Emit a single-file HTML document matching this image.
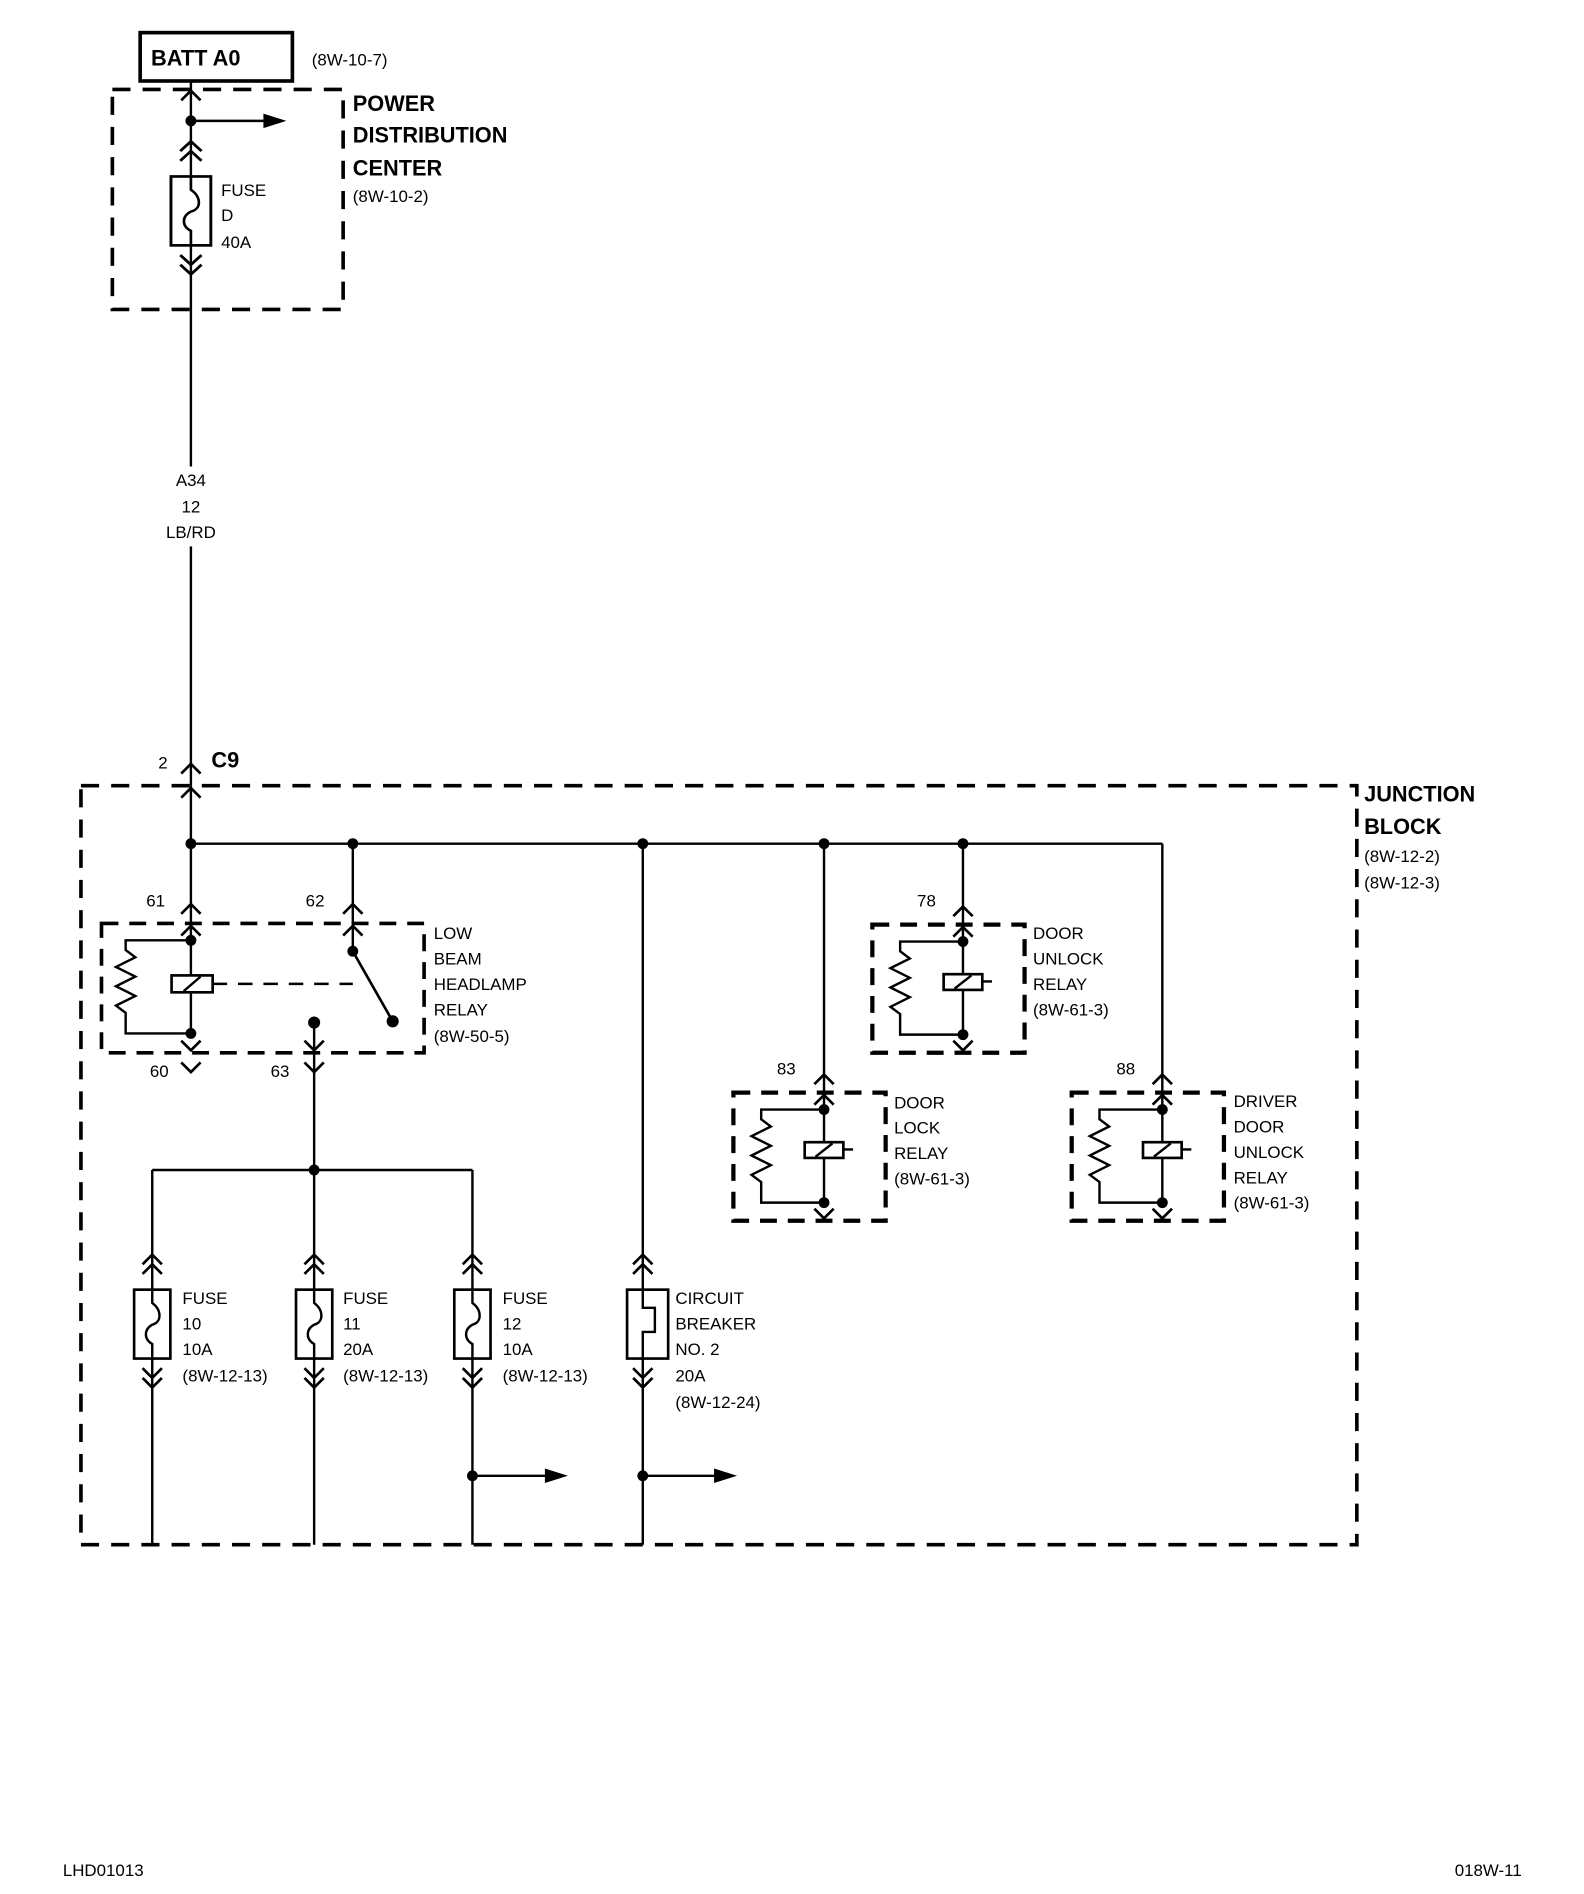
<!DOCTYPE html>
<html><head><style>
html,body{margin:0;padding:0;background:#fff}
svg{display:block}
text{font-family:"Liberation Sans",Arial,sans-serif;fill:#000}
.s{font-size:14px}
.b{font-size:18px;font-weight:bold}
</style></head><body>
<svg width="1584" height="1894" viewBox="0 0 1311 1567" preserveAspectRatio="none" xmlns="http://www.w3.org/2000/svg">
<defs>
<path id="up" d="M-8,8 L0,0 L8,8" fill="none" stroke="#000" stroke-width="2.2"/>
<path id="dn" d="M-8,-8 L0,0 L8,-8" fill="none" stroke="#000" stroke-width="2.2"/>
<g id="relay">
<rect x="-75" y="0" width="126" height="106" fill="none" stroke="#000" stroke-width="3.5" stroke-dasharray="14,9"/>
<use href="#up" x="0" y="2"/>
<line x1="0" y1="0" x2="0" y2="91" stroke="#000" stroke-width="2"/>
<path d="M0,14 H-52 V22 L-44,28 L-60,36 L-44,44 L-60,52 L-44,60 L-60,68 L-52,74 V91 H0" fill="none" stroke="#000" stroke-width="2"/>
<rect x="-16" y="41" width="32" height="13" fill="#fff" stroke="#000" stroke-width="2.2"/>
<line x1="-7" y1="53" x2="7" y2="42" stroke="#000" stroke-width="2"/>
<line x1="16" y1="47" x2="24" y2="47" stroke="#000" stroke-width="2"/>
<circle cx="0" cy="14" r="4.5"/>
<circle cx="0" cy="91" r="4.5"/>
<use href="#dn" x="0" y="104"/>
</g>
<g id="fuse">
<use href="#up" x="0" y="0"/><use href="#up" x="0" y="8"/>
<rect x="-15" y="29" width="30" height="57" fill="#fff" stroke="#000" stroke-width="2.2"/>
<path d="M0,29 V40 C8,46 8,56 0,58 C-7,62 -7,70 0,74 V86" fill="none" stroke="#000" stroke-width="2"/>
<use href="#dn" x="0" y="102"/><use href="#dn" x="0" y="110"/>
</g>
</defs>

<rect x="116" y="27" width="126" height="40" fill="none" stroke="#000" stroke-width="3"/>
<text x="125" y="54" style="font-size:18px;font-weight:bold">BATT A0</text>
<text x="258" y="54" class="s">(8W-10-7)</text>
<rect x="93" y="74" width="191" height="182" fill="none" stroke="#000" stroke-width="3" stroke-dasharray="15,10"/>
<line x1="158" y1="67" x2="158" y2="386" stroke="#000" stroke-width="2"/>
<line x1="158" y1="452" x2="158" y2="650" stroke="#000" stroke-width="2"/>
<use href="#up" x="158" y="75"/>
<circle cx="158" cy="100" r="4.5"/>
<line x1="158" y1="100" x2="222" y2="100" stroke="#000" stroke-width="2"/>
<path d="M218,94 L237,100 L218,106Z"/>
<g transform="translate(158,117) scale(1.1,1)"><use href="#fuse"/></g>
<text x="183" y="162" class="s">FUSE</text>
<text x="183" y="183" class="s">D</text>
<text x="183" y="205" class="s">40A</text>
<text x="292" y="92" class="b">POWER</text>
<text x="292" y="118" class="b">DISTRIBUTION</text>
<text x="292" y="145" class="b">CENTER</text>
<text x="292" y="167" class="s">(8W-10-2)</text>
<text x="158" y="402" class="s" text-anchor="middle">A34</text>
<text x="158" y="424" class="s" text-anchor="middle">12</text>
<text x="158" y="445" class="s" text-anchor="middle">LB/RD</text>
<text x="131" y="636" class="s">2</text>
<text x="175" y="635" style="font-size:18px;font-weight:bold">C9</text>
<use href="#up" x="158" y="632"/>
<use href="#up" x="158" y="652"/>

<rect x="67" y="650" width="1056" height="628" fill="none" stroke="#000" stroke-width="3" stroke-dasharray="15,10"/>
<text x="1129" y="663" class="b">JUNCTION</text>
<text x="1129" y="690" class="b">BLOCK</text>
<text x="1129" y="713" class="s">(8W-12-2)</text>
<text x="1129" y="735" class="s">(8W-12-3)</text>
<g stroke="#000" stroke-width="2" fill="none">
<line x1="158" y1="650" x2="158" y2="766"/>
<line x1="158" y1="698" x2="962" y2="698"/>
<line x1="292" y1="698" x2="292" y2="787"/>
<line x1="532" y1="698" x2="532" y2="1278"/>
<line x1="682" y1="698" x2="682" y2="904"/>
<line x1="797" y1="698" x2="797" y2="765"/>
<line x1="962" y1="698" x2="962" y2="904"/>
<line x1="260" y1="846" x2="260" y2="968"/>
<line x1="126" y1="968" x2="391" y2="968"/>
<line x1="126" y1="968" x2="126" y2="1278"/>
<line x1="260" y1="968" x2="260" y2="1278"/>
<line x1="391" y1="968" x2="391" y2="1278"/>
</g>
<circle cx="158" cy="698" r="4.5"/><circle cx="292" cy="698" r="4.5"/><circle cx="532" cy="698" r="4.5"/>
<circle cx="682" cy="698" r="4.5"/><circle cx="797" cy="698" r="4.5"/><circle cx="260" cy="968" r="4.5"/>

<rect x="84" y="764" width="267" height="107" fill="none" stroke="#000" stroke-width="3" stroke-dasharray="14,9"/>
<use href="#up" x="158" y="748"/><use href="#up" x="292" y="748"/>
<use href="#up" x="158" y="766"/><use href="#up" x="292" y="766"/>
<text x="121" y="750" class="s">61</text><text x="253" y="750" class="s">62</text>
<line x1="158" y1="766" x2="158" y2="855" stroke="#000" stroke-width="2"/>
<path d="M158,778 H104 V786 L112,792 L96,800 L112,808 L96,816 L112,824 L96,832 L104,838 V855 H158" fill="none" stroke="#000" stroke-width="2"/>
<rect x="142" y="807" width="34" height="14" fill="#fff" stroke="#000" stroke-width="2.2"/>
<line x1="152" y1="820" x2="166" y2="808" stroke="#000" stroke-width="2"/>
<line x1="176" y1="814" x2="292" y2="814" stroke="#000" stroke-width="2" stroke-dasharray="12,9"/>
<line x1="292" y1="787" x2="325" y2="845" stroke="#000" stroke-width="2.2"/>
<circle cx="158" cy="778" r="4.5"/><circle cx="158" cy="855" r="4.5"/>
<circle cx="292" cy="787" r="4.5"/><circle cx="325" cy="845" r="5"/><circle cx="260" cy="846" r="5"/>
<use href="#dn" x="158" y="869"/><use href="#dn" x="260" y="869"/>
<use href="#dn" x="158" y="887"/><use href="#dn" x="260" y="887"/>
<text x="124" y="891" class="s">60</text><text x="224" y="891" class="s">63</text>
<text x="359" y="777" class="s">LOW</text>
<text x="359" y="798" class="s">BEAM</text>
<text x="359" y="819" class="s">HEADLAMP</text>
<text x="359" y="840" class="s">RELAY</text>
<text x="359" y="862" class="s">(8W-50-5)</text>

<use href="#up" x="797" y="750"/>
<g transform="translate(797,765)"><use href="#relay"/></g>
<text x="759" y="750" class="s">78</text>
<text x="855" y="777" class="s">DOOR</text>
<text x="855" y="798" class="s">UNLOCK</text>
<text x="855" y="819" class="s">RELAY</text>
<text x="855" y="840" class="s">(8W-61-3)</text>

<use href="#up" x="682" y="889"/>
<g transform="translate(682,904)"><use href="#relay"/></g>
<text x="643" y="889" class="s">83</text>
<text x="740" y="917" class="s">DOOR</text>
<text x="740" y="938" class="s">LOCK</text>
<text x="740" y="959" class="s">RELAY</text>
<text x="740" y="980" class="s">(8W-61-3)</text>

<use href="#up" x="962" y="889"/>
<g transform="translate(962,904)"><use href="#relay"/></g>
<text x="924" y="889" class="s">88</text>
<text x="1021" y="916" class="s">DRIVER</text>
<text x="1021" y="937" class="s">DOOR</text>
<text x="1021" y="958" class="s">UNLOCK</text>
<text x="1021" y="979" class="s">RELAY</text>
<text x="1021" y="1000" class="s">(8W-61-3)</text>

<g transform="translate(126,1038)"><use href="#fuse"/></g>
<g transform="translate(260,1038)"><use href="#fuse"/></g>
<g transform="translate(391,1038)"><use href="#fuse"/></g>
<text x="151" y="1079" class="s">FUSE</text><text x="151" y="1100" class="s">10</text><text x="151" y="1121" class="s">10A</text><text x="151" y="1143" class="s">(8W-12-13)</text>
<text x="284" y="1079" class="s">FUSE</text><text x="284" y="1100" class="s">11</text><text x="284" y="1121" class="s">20A</text><text x="284" y="1143" class="s">(8W-12-13)</text>
<text x="416" y="1079" class="s">FUSE</text><text x="416" y="1100" class="s">12</text><text x="416" y="1121" class="s">10A</text><text x="416" y="1143" class="s">(8W-12-13)</text>

<use href="#up" x="532" y="1038"/><use href="#up" x="532" y="1046"/>
<rect x="519" y="1067" width="34" height="57" fill="#fff" stroke="#000" stroke-width="2.2"/>
<path d="M532,1067 V1082 H542 V1102 H532 V1124" fill="none" stroke="#000" stroke-width="2"/>
<use href="#dn" x="532" y="1140"/><use href="#dn" x="532" y="1148"/>
<text x="559" y="1079" class="s">CIRCUIT</text><text x="559" y="1100" class="s">BREAKER</text><text x="559" y="1121" class="s">NO. 2</text><text x="559" y="1143" class="s">20A</text><text x="559" y="1165" class="s">(8W-12-24)</text>

<circle cx="391" cy="1221" r="4.5"/>
<line x1="391" y1="1221" x2="455" y2="1221" stroke="#000" stroke-width="2"/>
<path d="M451,1215 L470,1221 L451,1227Z"/>
<circle cx="532" cy="1221" r="4.5"/>
<line x1="532" y1="1221" x2="595" y2="1221" stroke="#000" stroke-width="2"/>
<path d="M591,1215 L610,1221 L591,1227Z"/>

<text x="52" y="1552" class="s">LHD01013</text>
<text x="1204" y="1552" class="s">018W-11</text>
</svg>
</body></html>
